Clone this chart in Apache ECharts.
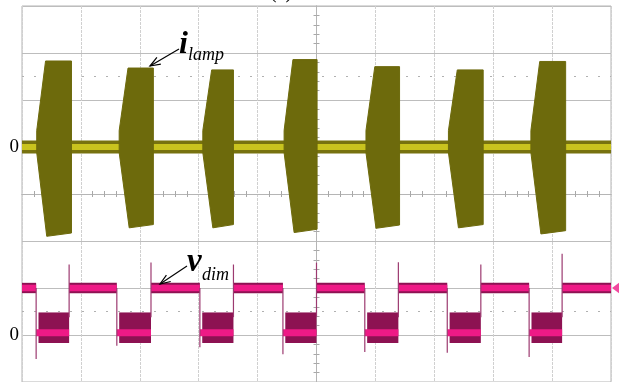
<!DOCTYPE html>
<html>
<head>
<meta charset="utf-8">
<script src="https://cdn.jsdelivr.net/npm/echarts@6/dist/echarts.min.js"></script>
<style>html,body{margin:0;padding:0;background:#fff}#c{width:619px;height:382px}</style>
</head>
<body>
<div id="c"></div>
<script>
// ---- axis ranges (divisions) ----
const xRange = [-5, 5];
const yRange = [-4, 4];
// ---- i_lamp trace ----
const lampZero = 1;
const burstStart  = [-4.75, -3.35, -1.93, -0.55, 0.84, 2.24, 3.64];
const burstEnd    = [-4.16, -2.77, -1.41, 0.01, 1.41, 2.83, 4.23];
const burstTop    = [2.83, 2.68, 2.64, 2.86, 2.71, 2.64, 2.82];
const burstBottom = [-0.90, -0.72, -0.72, -0.82, -0.73, -0.72, -0.85];
// ---- v_dim trace ----
const vdimZero = -3;
const vdimHigh = -2.0;
const vdimLow = -2.95;
const vdimFall = [-4.76, -3.39, -1.98, -0.57, 0.82, 2.22, 3.61];
const vdimRise = [-4.20, -2.81, -1.41, 0.00, 1.39, 2.79, 4.17];
const fallUndershoot = [-3.51, -3.23, -3.26, -3.41, -3.36, -3.38, -3.47];
const riseOvershoot  = [-1.50, -1.46, -1.50, -1.46, -1.45, -1.50, -1.27];
const vdimNoiseTop = -2.52;
const vdimNoiseBottom = -3.17;
// ---- cursors and labels ----
const cursorLevels = [2.5, -2.5];
const zeroLabels = [lampZero, vdimZero];

const OLIVE = '#6d6a0c', OLIVE_EDGE = '#77720f', YELLOW = '#c9c31e';
const PINK = '#ee1a86', MAROON = '#8d1252', EDGE = '#9c3a70';

const chart = echarts.init(document.getElementById('c'), null, {renderer: 'canvas'});

function arrow(tail, tip) {
  const dx = tail[0] - tip[0], dy = tail[1] - tip[1];
  const L = Math.hypot(dx, dy), ux = dx / L, uy = dy / L;
  const len = 11, a = 0.36;
  const p1 = [tip[0] + len * (ux * Math.cos(a) - uy * Math.sin(a)), tip[1] + len * (ux * Math.sin(a) + uy * Math.cos(a))];
  const p2 = [tip[0] + len * (ux * Math.cos(-a) - uy * Math.sin(-a)), tip[1] + len * (ux * Math.sin(-a) + uy * Math.cos(-a))];
  return [
    {type: 'line', shape: {x1: tail[0], y1: tail[1], x2: tip[0], y2: tip[1]}, style: {stroke: '#000', lineWidth: 1.2}, z: 100},
    {type: 'polyline', shape: {points: [p1, tip, p2]}, style: {stroke: '#000', lineWidth: 1.2, fill: null}, z: 100}
  ];
}

const highStart = [xRange[0]].concat(vdimRise);
const highEnd = vdimFall.concat([xRange[1]]);

const commonX = {type: 'value', min: xRange[0], max: xRange[1], interval: 1};
const commonY = {type: 'value', min: yRange[0], max: yRange[1], interval: 1};

const option = {
  animation: false,
  backgroundColor: '#ffffff',
  grid: {left: 22, top: 6, width: 589, height: 377, show: true, borderColor: '#b5b5b5', borderWidth: 1, backgroundColor: 'transparent'},
  xAxis: [
    Object.assign({}, commonX, {
      axisLine: {show: true, onZero: true, onZeroAxisIndex: 0, lineStyle: {color: '#b5b5b5'}},
      axisTick: {show: false}, axisLabel: {show: false},
      minorTick: {show: true, splitNumber: 5, length: 3, lineStyle: {color: '#a8a8a8'}},
      splitLine: {show: true, lineStyle: {color: '#d0d0d0', width: 1, type: [3, 1]}}
    }),
    Object.assign({}, commonX, {
      position: 'top',
      axisLine: {show: true, onZero: true, onZeroAxisIndex: 0, lineStyle: {color: '#b5b5b5'}},
      axisTick: {show: false}, axisLabel: {show: false},
      minorTick: {show: true, splitNumber: 5, length: 3, lineStyle: {color: '#a8a8a8'}},
      splitLine: {show: false}
    })
  ],
  yAxis: [
    Object.assign({}, commonY, {
      position: 'left',
      axisLine: {show: true, onZero: true, onZeroAxisIndex: 0, lineStyle: {color: '#b5b5b5'}},
      axisTick: {show: false}, axisLabel: {show: false},
      minorTick: {show: true, splitNumber: 5, length: 3, lineStyle: {color: '#a8a8a8'}},
      splitLine: {show: true, lineStyle: {color: '#bdbdbd', width: 1}}
    }),
    Object.assign({}, commonY, {
      position: 'left',
      axisLine: {show: false, onZero: false},
      axisTick: {show: false},
      splitLine: {show: false},
      axisLabel: {
        show: true, margin: 3, color: '#000', fontSize: 19, fontFamily: '"Liberation Serif", "DejaVu Serif", serif',
        formatter: v => zeroLabels.indexOf(v) >= 0 ? '0' : ''
      }
    }),
    Object.assign({}, commonY, {
      position: 'right',
      axisLine: {show: true, onZero: true, onZeroAxisIndex: 0, lineStyle: {color: '#b5b5b5'}},
      axisTick: {show: false}, axisLabel: {show: false},
      minorTick: {show: true, splitNumber: 5, length: 3, lineStyle: {color: '#a8a8a8'}},
      splitLine: {show: false}
    })
  ],
  graphic: [
    {type: 'text', x: 281, y: 3, style: {text: '(c)', font: '20px "Liberation Serif"', fill: '#000', align: 'center', verticalAlign: 'bottom'}, z: 100},
    {type: 'text', x: 179, y: 45, style: {text: 'i', font: 'italic bold 32px "Liberation Serif"', fill: '#000', align: 'left', verticalAlign: 'middle'}, z: 100},
    {type: 'text', x: 188, y: 55, style: {text: 'lamp', font: 'italic 18px "Liberation Serif"', fill: '#000', align: 'left', verticalAlign: 'middle'}, z: 100},
    {type: 'text', x: 187, y: 262.5, style: {text: 'v', font: 'italic bold 33px "Liberation Serif"', fill: '#000', align: 'left', verticalAlign: 'middle'}, z: 100},
    {type: 'text', x: 202, y: 275, style: {text: 'dim', font: 'italic 18px "Liberation Serif"', fill: '#000', align: 'left', verticalAlign: 'middle'}, z: 100}
  ].concat(arrow([179, 49], [150, 66])).concat(arrow([187, 266], [160, 284])),
  series: [
    {
      type: 'line', xAxisIndex: 0, yAxisIndex: 0, symbol: 'none', silent: true, z: 2,
      data: [[xRange[0], lampZero], [xRange[1], lampZero]],
      lineStyle: {color: OLIVE_EDGE, width: 13},
      markLine: {
        silent: true, symbol: 'none', label: {show: false},
        lineStyle: {color: '#b0b0b0', type: [2, 10], width: 1},
        data: cursorLevels.map(v => ({yAxis: v}))
      }
    },
    {
      type: 'line', xAxisIndex: 0, yAxisIndex: 0, symbol: 'none', silent: true, z: 3,
      data: [[xRange[0], lampZero], [xRange[1], lampZero]],
      lineStyle: {color: YELLOW, width: 6}
    },
    {
      type: 'custom', xAxisIndex: 0, yAxisIndex: 0, silent: true, z: 6,
      data: burstStart.map((s, i) => [s, burstEnd[i], burstTop[i], burstBottom[i]]),
      encode: {x: [0, 1], y: [2, 3]},
      renderItem: function (params, api) {
        const s = api.value(0), e = api.value(1), t = api.value(2), b = api.value(3);
        const pts = [[s, lampZero + 0.35], [s + 0.15, t], [e, t], [e, b + 0.07], [s + 0.17, b], [s, lampZero - 0.12]].map(p => api.coord(p));
        return {type: 'polygon', shape: {points: pts}, style: {fill: OLIVE, stroke: OLIVE, lineWidth: 1}};
      }
    },
    {
      type: 'custom', xAxisIndex: 0, yAxisIndex: 0, silent: true, z: 6,
      data: highStart.map((s, i) => [s, highEnd[i], vdimHigh]),
      encode: {x: [0, 1], y: 2},
      renderItem: function (params, api) {
        const s = api.value(0), e = api.value(1), h = api.value(2);
        const a = api.coord([s, h + 0.11]), b = api.coord([e, h - 0.11]);
        const c = api.coord([s, h + 0.07]), d = api.coord([e, h - 0.07]);
        return {type: 'group', children: [
          {type: 'rect', shape: {x: a[0], y: a[1], width: b[0] - a[0], height: b[1] - a[1]}, style: {fill: MAROON}},
          {type: 'rect', shape: {x: c[0], y: c[1], width: d[0] - c[0], height: d[1] - c[1]}, style: {fill: PINK}}
        ]};
      }
    },
    {
      type: 'custom', xAxisIndex: 0, yAxisIndex: 0, silent: true, z: 6,
      data: vdimFall.map((f, i) => [f, vdimRise[i], fallUndershoot[i], riseOvershoot[i]]),
      encode: {x: [0, 1], y: [2, 3]},
      renderItem: function (params, api) {
        const f = api.value(0), r = api.value(1), under = api.value(2), over = api.value(3);
        const n1 = api.coord([f + 0.04, vdimNoiseTop]), n2 = api.coord([r, vdimNoiseBottom]);
        const p1 = api.coord([f, vdimLow + 0.075]), p2 = api.coord([r, vdimLow - 0.075]);
        const fe1 = api.coord([f, vdimHigh]), fe2 = api.coord([f, under]);
        const re1 = api.coord([r, vdimNoiseTop - 0.1]), re2 = api.coord([r, over]);
        return {type: 'group', children: [
          {type: 'rect', shape: {x: n1[0], y: n1[1], width: n2[0] - n1[0], height: n2[1] - n1[1]}, style: {fill: MAROON}},
          {type: 'rect', shape: {x: p1[0], y: p1[1], width: p2[0] - p1[0], height: p2[1] - p1[1]}, style: {fill: PINK}},
          {type: 'line', shape: {x1: fe1[0], y1: fe1[1], x2: fe2[0], y2: fe2[1]}, style: {stroke: EDGE, lineWidth: 1.2}},
          {type: 'line', shape: {x1: re1[0], y1: re1[1], x2: re2[0], y2: re2[1]}, style: {stroke: EDGE, lineWidth: 1.2}}
        ]};
      }
    },
    {
      type: 'scatter', xAxisIndex: 0, yAxisIndex: 0, silent: true, clip: false, z: 7,
      data: [[xRange[1], vdimHigh]],
      symbol: 'triangle', symbolSize: [12, 8], symbolRotate: 90, symbolOffset: [5, 0],
      itemStyle: {color: PINK}
    }
  ]
};
chart.setOption(option);
</script>
</body>
</html>
